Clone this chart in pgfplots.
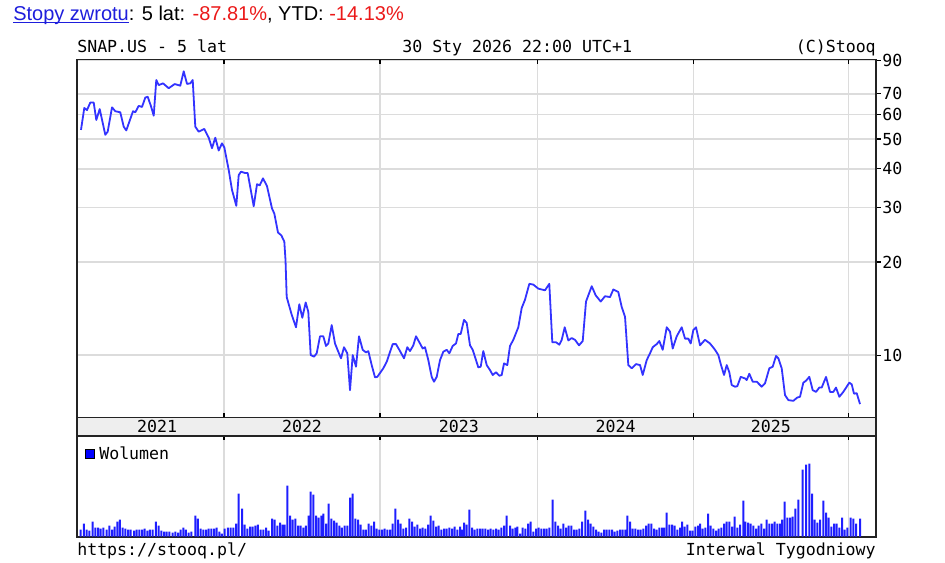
\documentclass[border=0pt]{standalone}
\usepackage{fontspec}
\setmainfont{Liberation Sans}
\newfontfamily\mono{DejaVu Sans Mono}
\usepackage{pgfplots}
\pgfplotsset{compat=1.18}
\definecolor{lineblue}{RGB}{51,51,255}
\definecolor{volblue}{RGB}{30,30,255}
\definecolor{linkblue}{RGB}{30,30,220}
\definecolor{retred}{RGB}{235,25,25}
\definecolor{gridc}{RGB}{220,220,220}
\definecolor{bandc}{RGB}{238,238,238}
\definecolor{framec}{RGB}{35,35,35}
\newcommand\monosize{\mono\fontsize{12.45}{14}\selectfont}
\newcommand\myul[1]{\setbox0\hbox{#1}\rlap{\rule[-1.6pt]{\wd0}{0.8pt}}\box0}

\pgfplotstableread{
u price
0.33 53.5
1.43 63
2.33 62
3.43 65.6
4.57 65.6
5.43 57.6
6.57 62.5
8.43 51.6
9.23 52.8
10.67 63.3
11.77 61.5
13.43 61
14.57 54.8
15.43 53.3
17.67 61.5
18.43 61
19.57 64.0
20.67 63.5
21.77 68.1
22.57 68.5
23.67 63.8
24.57 59.5
25.43 77.6
26.23 74.7
27.67 75.7
29.57 73.0
31.57 75.3
33.43 74.4
34.57 82.8
35.67 75.4
36.77 75.7
37.57 77.6
38.43 54.8
39.57 52.8
41.43 53.9
42.9 50.5
44 46.7
45.1 50.5
46.23 45.9
47.33 48.4
48.1 47.0
49.57 39.7
50.67 34.2
52.1 30.4
52.9 38.2
53.67 39.2
55.1 38.8
55.9 38.8
57.9 30.3
59 35.7
59.9 35.4
61 37.3
62.33 35.2
64 29.8
64.77 28.7
66 24.9
67.1 24.4
68.1 23.3
68.5 20.3
68.9 15.4
70.57 13.5
72 12.3
73.1 14.6
74.1 13.2
75.23 14.8
76.1 13.8
76.9 10.0
78 9.88
78.9 10.13
80 11.5
81.1 11.5
82 10.7
82.77 10.9
83.9 12.5
85 10.9
86.1 10.25
87 9.76
88 10.6
89.1 10.13
90 7.70
90.9 10.0
92 9.17
93 11.5
94.23 10.4
95.33 10.2
96.1 10.3
97.23 9.28
98.33 8.47
99.1 8.5
101.1 9.06
102.23 9.51
103.1 10.07
104.23 10.85
105.33 10.85
106.67 10.3
108 9.76
109.1 10.6
110 10.3
111.1 10.75
112 11.5
113.33 10.9
114.23 10.5
115 10.6
116.1 9.63
117.23 8.5
118 8.2
118.9 8.5
120 9.63
121.1 10.25
122.23 10.4
123.1 10.13
124.23 10.7
125.33 10.9
126.1 11.7
126.9 11.7
128 13.0
128.9 12.7
130 10.75
130.9 10.4
132 9.63
132.77 9.12
133.57 9.17
134.43 10.3
135.57 9.28
136.67 8.94
137.57 8.62
138.67 8.8
139.77 8.57
140.57 8.62
141.33 9.4
142.43 9.28
143.33 10.7
144.43 11.2
146.1 12.3
147.23 14.2
148.33 15.1
149.77 17.0
151.1 16.9
152.77 16.4
155 16.2
156.43 17.0
157.43 11.0
158.67 11.0
159.77 10.8
160.57 11.2
161.57 12.3
162.77 11.15
163.9 11.35
165 11.2
166.33 10.75
167.57 11.1
168.67 14.9
170.57 16.7
171.9 15.6
173.57 14.9
175 15.5
176.67 15.4
177.77 16.3
179.43 16.0
180.57 14.3
181.67 13.3
182.77 9.28
183.9 9.06
185.33 9.35
186.67 9.28
187.57 8.62
188.9 9.63
190 10.13
190.9 10.6
192.23 10.85
193.1 11.1
194.23 10.4
195.57 12.3
196.67 11.9
197.57 10.5
198.9 11.5
200.57 12.3
201.67 11.3
202.77 11.3
203.57 10.9
204.43 12.05
205.33 12.3
206.67 10.75
208.33 11.2
210 10.9
211.67 10.4
212.77 10.0
213.67 9.28
214.67 8.62
215.57 9.28
216.43 8.8
217.23 8.0
218.33 7.9
219.1 7.93
220.23 8.5
221.67 8.4
222.23 8.3
223.1 8.7
224.23 8.2
225.57 8.2
227.23 7.9
228.33 8.1
229.77 9.06
230.9 9.17
232 9.93
232.77 9.76
233.9 9.06
235 7.42
236.1 7.15
237.77 7.11
239.1 7.29
240 7.33
241.1 8.14
242 8.26
243.1 8.5
244.23 7.70
245.33 7.6
246.43 7.85
247.23 7.85
248.67 8.5
250 7.6
251.1 7.6
252 7.85
253.1 7.33
254.43 7.6
256.43 8.14
257.23 8.04
258 7.5
258.9 7.53
260 6.94
}\pricedata

\begin{document}
\begin{tikzpicture}
\path[use as bounding box] (0pt,0pt) rectangle (708.75pt,-421.5pt);

% ---- price panel ----
\begin{axis}[
  at={(57.75pt,-313.125pt)}, anchor=south west,
  width=599.25pt, height=268.5pt, scale only axis,
  xmin=-1, xmax=265.33,
  ymode=log, ymin=6.28, ymax=90.4,
  xtick={48,100,152.5,204.4,256.1}, xticklabels={},
  xtick pos=both, xtick align=inside,
  ytick={10,20,30,40,50,60,70,90},
  yticklabels={10,20,30,40,50,60,70,90},
  yminorticks=false, xminorticks=false,
  ytick pos=right, ytick align=outside,
  yticklabel style={font=\monosize, anchor=west, inner sep=0pt, xshift=1pt},
  xmajorgrids, ymajorgrids,
  major grid style={gridc, line width=1pt},
  axis line style={framec, line width=1.3pt},
  major tick length=3.5pt,
  every tick/.style={black, line width=0.8pt},
]
\addplot[lineblue, line width=1.35pt, line join=round, mark=none] table[x=u, y=price] {\pricedata};
\end{axis}

% ---- year band ----
\begin{axis}[
  at={(57.75pt,-326.7pt)}, anchor=south west,
  width=599.25pt, height=13.5pt, scale only axis,
  xmin=-1, xmax=265.33, ymin=0, ymax=1,
  xtick=\empty, ytick=\empty,
  axis background/.style={fill=bandc},
  axis line style={framec, line width=1.3pt},
]
\node[font=\monosize] at (axis cs:25.67,0.5) {2021};
\node[font=\monosize] at (axis cs:74,0.5) {2022};
\node[font=\monosize] at (axis cs:126.25,0.5) {2023};
\node[font=\monosize] at (axis cs:178.5,0.5) {2024};
\node[font=\monosize] at (axis cs:230.25,0.5) {2025};
\end{axis}

% ---- volume panel ----
\begin{axis}[
  at={(57.75pt,-402.5pt)}, anchor=south west,
  width=599.25pt, height=75.75pt, scale only axis,
  xmin=-1, xmax=265.33, ymin=0, ymax=101,
  ybar, bar width=1.5pt,
  xtick={48,100,152.5,204.4,256.1}, xticklabels={},
  xtick pos=right, xtick align=inside,
  ytick=\empty,
  xmajorgrids,
  major grid style={gridc, line width=0.8pt},
  axis line style={framec, line width=1.3pt},
  major tick length=3.5pt,
  every tick/.style={black, line width=0.8pt},
  legend style={at={(axis description cs:0,1)}, anchor=north west,
    xshift=6pt, yshift=-7pt, draw=none, fill=none, inner sep=0pt,
    font=\monosize, nodes={inner sep=1pt}, column sep=2pt},
  legend cell align=left,
]
\addplot[fill=volblue, draw=none,
  legend image code/.code={\draw[fill=blue, draw=black, line width=0.7pt] (0pt,-3.4pt) rectangle (6.8pt,3.4pt);}]
coordinates {
(0.22,7)(1.33,13)(2.22,7)(3.11,6)(4.22,15)(5.11,9)(6.0,9)(6.89,8)(7.78,9)(8.89,7)(9.78,11)(10.67,7)(11.56,10)(12.44,15)(13.33,17)(14.22,9)(15.11,8)(16.0,7)(16.89,7)(18.0,6)(18.89,7)(19.78,7)(20.67,7)(21.56,8)(22.44,6)(23.33,7)(24.22,7)(25.33,15)(26.22,11)(27.11,6)(28.0,5)(28.89,5)(29.78,5)(30.89,4)(31.78,5)(32.67,4)(33.56,7)(34.44,9)(35.33,7)(36.22,4)(37.11,5)(38.44,21)(39.33,18)(40.22,8)(41.11,7)(42.0,7)(42.89,8)(43.78,8)(44.67,8)(45.56,9)(46.44,5)(47.33,3)(48.22,8)(49.33,9)(50.22,9)(51.11,9)(52.0,13)(52.89,43)(54.0,28)(54.89,12)(55.78,8)(56.67,10)(57.56,10)(58.44,11)(59.33,12)(60.22,7)(61.11,7)(62.0,9)(62.89,6)(64.0,18)(64.89,17)(65.78,11)(66.67,14)(67.56,12)(68.22,12)(69.11,51)(70.0,21)(70.89,17)(71.78,18)(72.67,11)(73.56,11)(74.44,9)(75.33,11)(76.22,21)(76.89,45)(77.78,42)(78.67,21)(79.56,19)(80.44,21)(81.11,23)(82.0,13)(82.89,33)(83.78,18)(84.67,16)(85.56,14)(86.44,11)(87.33,9)(88.22,11)(89.11,11)(90.0,39)(90.89,43)(91.78,18)(92.67,17)(93.56,12)(94.44,7)(95.33,7)(96.22,13)(97.11,11)(98.0,15)(98.89,8)(99.78,7)(100.67,7)(101.56,8)(102.44,7)(103.33,7)(104.22,13)(105.11,28)(106.0,17)(106.89,13)(107.78,8)(108.67,9)(109.78,18)(110.67,15)(111.56,10)(112.44,12)(113.33,8)(114.22,9)(115.11,8)(116.0,12)(116.89,21)(117.78,16)(118.67,10)(119.56,11)(120.44,7)(121.33,8)(122.22,8)(123.11,9)(124.0,8)(124.89,10)(125.78,7)(126.67,10)(127.33,7)(128.0,14)(128.89,12)(129.78,27)(130.67,9)(131.56,7)(132.44,8)(133.33,8)(134.22,8)(135.11,8)(136.0,7)(136.89,8)(137.78,7)(138.67,8)(139.56,7)(140.44,9)(141.33,11)(142.22,21)
(143.33,11)(144.22,8)(145.11,9)(145.78,10)(146.67,3)(147.56,9)(148.44,8)(149.33,13)(150.22,15)(151.11,5)(152.0,8)(152.89,9)(153.78,8)(154.67,8)(155.56,8)(156.44,9)(157.56,37)(158.44,15)(159.33,11)(160.22,8)(161.11,13)(162.0,9)(162.89,11)(163.78,11)(164.67,7)(165.56,7)(166.44,8)(167.33,15)(168.44,26)(169.33,17)(170.22,13)(171.11,10)(172.0,7)(172.89,5)(173.78,4)(174.67,7)(175.56,7)(176.44,7)(177.33,7)(178.22,5)(179.11,6)(180.0,7)(180.89,7)(181.78,7)(182.44,21)(183.33,15)(184.22,8)(185.11,8)(186.0,7)(186.89,7)(187.78,8)(188.67,11)(189.56,13)(190.44,13)(191.33,8)(192.22,7)(193.11,9)(194.0,9)(194.67,9)(195.56,24)(196.44,12)(197.33,12)(198.22,11)(199.11,7)(200.0,9)(200.67,15)(201.56,10)(202.44,12)(203.33,6)(204.22,6)(205.11,10)(206.0,11)(206.67,13)(207.56,8)(208.44,9)(209.33,23)(210.22,11)(211.11,8)(212.0,6)(212.89,8)(213.78,9)(214.67,13)(215.56,15)(216.44,15)(217.33,10)(218.22,20)(219.11,9)(220.0,12)(221.11,36)(221.78,15)(222.67,14)(223.56,13)(224.44,11)(225.33,8)(226.22,11)(227.11,13)(228.0,8)(228.89,17)(229.78,13)(230.67,13)(231.56,15)(232.44,13)(233.33,13)(234.0,17)(234.89,35)(235.78,19)(236.67,19)(237.56,20)(238.44,28)(239.44,37)(240.89,67)(242.0,72)(243.11,73)(244.0,43)(244.89,17)(245.78,14)(246.67,17)(247.78,36)(248.67,24)(249.56,19)(250.44,10)(251.33,13)(252.22,13)(253.11,9)(254.0,19)(254.89,7)(255.78,9)(256.89,19)(257.78,18)(258.67,13)(260.0,18)
};
\addlegendentry{Wolumen}
\end{axis}

% ---- texts ----
\node[anchor=base west, inner sep=0pt, font=\fontsize{15}{18}\selectfont] at (9.75pt,-15.4pt)
  {\textcolor{linkblue}{\myul{Stopy zwrotu}}: 5 lat: \textcolor{retred}{-87.81\%}, YTD: \textcolor{retred}{-14.13\%}};
\node[anchor=base west, inner sep=0pt, font=\monosize] at (57.75pt,-39.4pt) {SNAP.US - 5 lat};
\node[anchor=base west, inner sep=0pt, font=\monosize] at (301.5pt,-39.4pt) {30 Sty 2026 22:00 UTC+1};
\node[anchor=base east, inner sep=0pt, font=\monosize] at (657pt,-39.4pt) {(C)Stooq};
\node[anchor=base west, inner sep=0pt, font=\monosize] at (57.75pt,-416.25pt) {https://stooq.pl/};
\node[anchor=base east, inner sep=0pt, font=\monosize] at (657pt,-416.25pt) {Interwal Tygodniowy};
\end{tikzpicture}
\end{document}
